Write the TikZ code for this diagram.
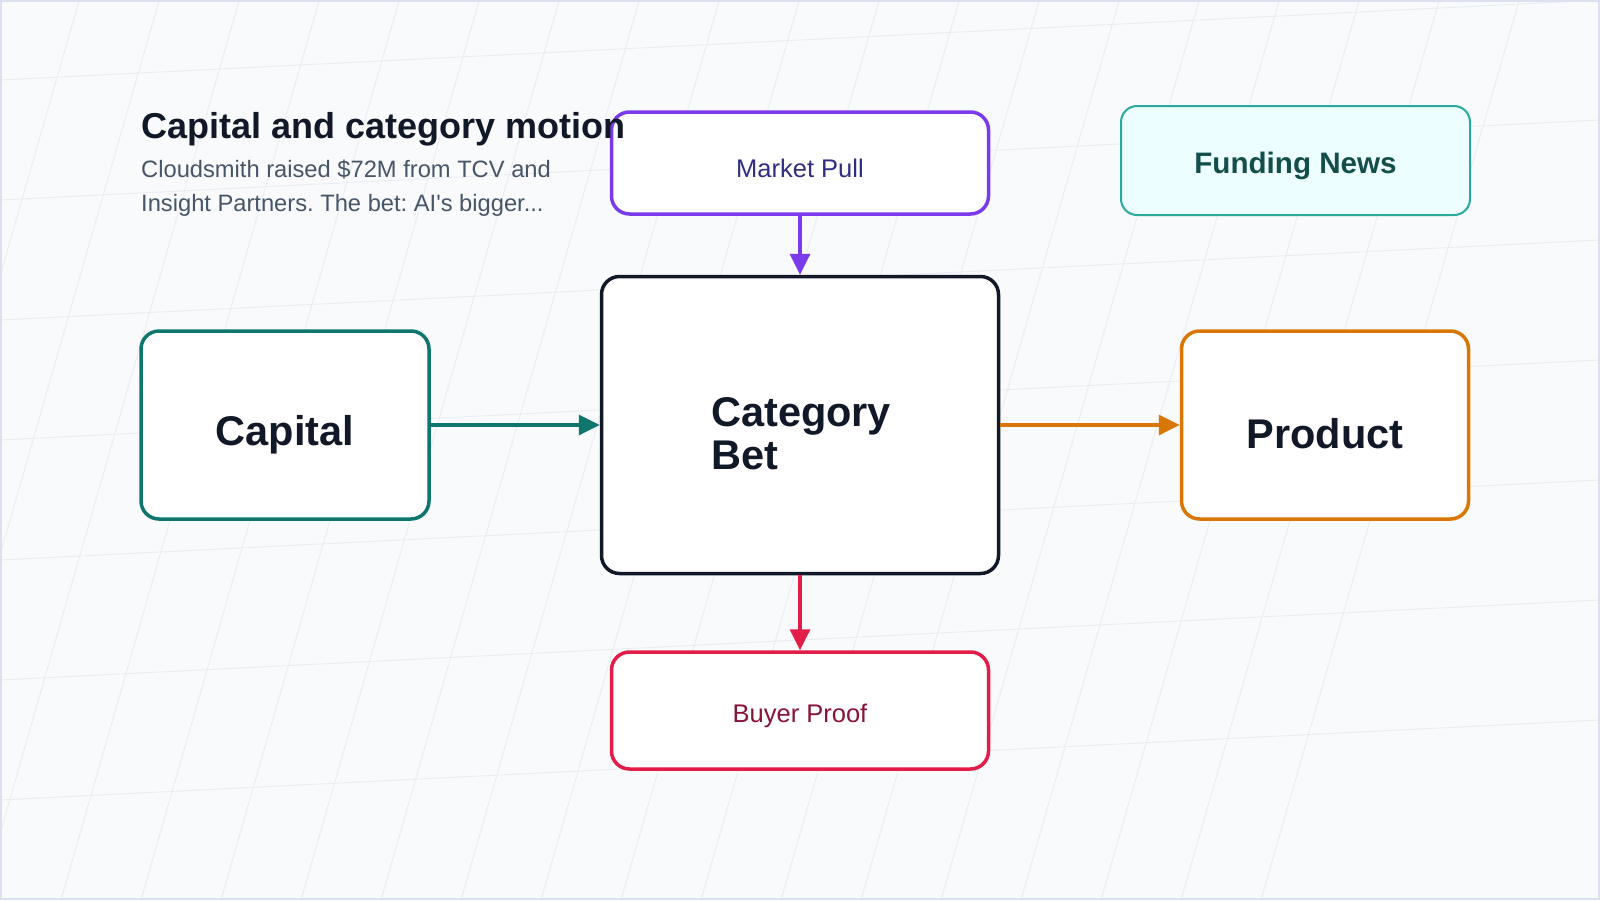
\documentclass[tikz,border=0pt]{standalone}
\usepackage{fontspec}
\setmainfont{Liberation Sans}
\usetikzlibrary{arrows.meta}
\frenchspacing
\definecolor{bgc}{HTML}{F8FAFC}
\definecolor{gridc}{HTML}{E8ECF2}
\definecolor{framec}{HTML}{DCE0EF}
\definecolor{ink}{HTML}{111827}
\definecolor{subc}{HTML}{475569}
\definecolor{capc}{HTML}{0F766E}
\definecolor{prodc}{HTML}{D97706}
\definecolor{mktc}{HTML}{7C3AED}
\definecolor{mkttext}{HTML}{312E81}
\definecolor{buyc}{HTML}{E11D48}
\definecolor{buytext}{HTML}{881337}
\definecolor{fundc}{HTML}{2AA99E}
\definecolor{fundfill}{HTML}{ECFEFF}
\definecolor{fundtext}{HTML}{134E4A}
\tikzset{
  gridline/.style={draw=gridc, line width=0.8pt},
  box/.style={draw, fill=white, rounded corners=18pt, line width=3.5pt, inner sep=0pt, text depth=0pt},
  bigtext/.style={font=\bfseries\fontsize{41.5}{43}\selectfont, text=ink},
  smalltext/.style={font=\fontsize{25.5}{30}\selectfont},
  conn/.style={line width=3.5pt, -{Triangle[length=21pt,width=20pt]}},
}
\begin{document}
\begin{tikzpicture}[x=1pt,y=-1pt]
\useasboundingbox (0,0) rectangle (1600,900);
\fill[bgc] (0,0) rectangle (1600,900);
\begin{scope}
  \clip (0,0) rectangle (1600,900);
  \foreach \k in {0,...,18} {
    \draw[gridline] ({79.3+80*\k},0) -- ({79.3+80*\k-258.3},900);
  }
  \foreach \k in {0,...,6} {
    \draw[gridline] (0,{80+120*\k}) -- (1600,{80+120*\k-80});
  }
\end{scope}
\draw[draw=framec, line width=2pt] (1,1) rectangle (1599,899);

% boxes
\node[box, draw=capc, minimum width=288pt, minimum height=188pt, bigtext, text height=41pt] (cap) at (285,425) {Capital};
\node[box, draw=ink, minimum width=397pt, minimum height=297pt] (cat) at (800,425) {};
\node[anchor=north west, inner sep=0pt, align=left, bigtext] (catlabel) at (711,397.5) {Category\\Bet};
\node[box, draw=prodc, minimum width=287pt, minimum height=188pt, bigtext, text height=46pt] (prod) at (1325,425) {Product};
\node[box, draw=mktc, minimum width=377pt, minimum height=102pt, smalltext, text=mkttext, text height=28pt] (mkt) at (800,163) {Market Pull};
\node[box, draw=buyc, minimum width=377pt, minimum height=117pt, smalltext, text=buytext, text height=24pt] (buy) at (800,710.5) {Buyer Proof};
\node[box, draw=fundc, fill=fundfill, line width=2pt, rounded corners=16pt, minimum width=349pt, minimum height=109pt, font=\bfseries\fontsize{29.6}{32}\selectfont, text=fundtext, text height=25pt] (fund) at (1295.5,160.5) {Funding News};

% connectors
\draw[conn, draw=capc, fill=capc] (cap.east) -- (cat.west);
\draw[conn, draw=prodc, fill=prodc] (cat.east) -- (prod.west);
\draw[conn, draw=mktc, fill=mktc] (mkt.south) -- (cat.north);
\draw[conn, draw=buyc, fill=buyc] (cat.south) -- (buy.north);

% title
\node[anchor=base west, inner sep=0pt, font=\bfseries\fontsize{36}{40}\selectfont, text=ink] (title) at (141,138) {Capital and category motion};
\node[anchor=base west, inner sep=0pt, font=\fontsize{23.7}{30}\selectfont, text=subc] (sub1) at (141,177) {Cloudsmith raised \$72M from TCV and};
\node[anchor=base west, inner sep=0pt, font=\fontsize{23.7}{30}\selectfont, text=subc] (sub2) at (141,211) {Insight Partners. The bet: AI\textquotesingle s bigger...};
\end{tikzpicture}
\end{document}
